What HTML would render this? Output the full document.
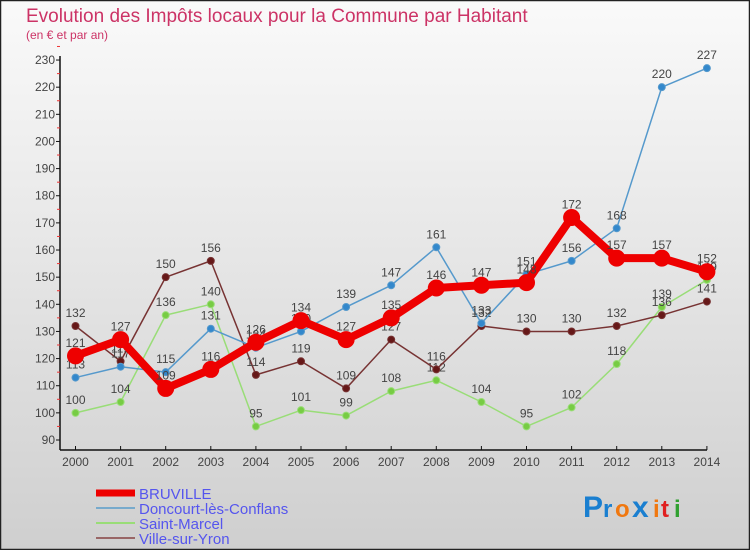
<!DOCTYPE html>
<html><head><meta charset="utf-8"><style>
html,body{margin:0;padding:0;}
body{width:750px;height:550px;overflow:hidden;font-family:"Liberation Sans",sans-serif;}
</style></head><body>
<svg id="chart" width="750" height="550" xmlns="http://www.w3.org/2000/svg" font-family="Liberation Sans, sans-serif">
<defs><linearGradient id="bg" x1="0" y1="0" x2="0" y2="1"><stop offset="0" stop-color="#fafafa"/><stop offset="1" stop-color="#cfcfcf"/></linearGradient></defs>
<rect x="0.5" y="0.5" width="749" height="549" fill="url(#bg)" stroke="#222" stroke-width="1.5"/>
<text x="26" y="22" font-size="19" fill="#cc3366">Evolution des Impôts locaux pour la Commune par Habitant</text>
<text x="26" y="39" font-size="12" fill="#cc3366">(en € et par an)</text>
<g id="axes"></g>
<g id="series"></g>
<g id="legend"></g>
<g font-size="30" font-weight="bold">
<text x="583" y="517" fill="#1a7fd0">P</text><text x="603" y="517" fill="#1a7fd0" font-size="24">r</text><text x="615" y="517" fill="#f07810" font-size="24">o</text><text x="632" y="517" fill="#1a7fd0">x</text><text x="653" y="517" fill="#f07810" font-size="24">i</text><text x="661" y="517" fill="#e02020" font-size="24">t</text><text x="674" y="517" fill="#30a030" font-size="24">i</text>
</g>
</svg>
<script>
const years=[2000,2001,2002,2003,2004,2005,2006,2007,2008,2009,2010,2011,2012,2013,2014];
const bruville=[121,127,109,116,126,134,127,135,146,147,148,172,157,157,152];
const doncourt=[113,117,115,131,124,130,139,147,161,133,151,156,168,220,227];
const saintMarcel=[100,104,136,140,95,101,99,108,112,104,95,102,118,139,149];
const villeSurYron=[132,119,150,156,114,119,109,127,116,132,130,130,132,136,141];
const yTicks=[90,100,110,120,130,140,150,160,170,180,190,200,210,220,230];
const NS='http://www.w3.org/2000/svg';
const x=i=>75.5+i*45.1;
const y=v=>440-(v-90)*2.714;
function mk(tag,attrs,parent){const e=document.createElementNS(NS,tag);for(const k in attrs)e.setAttribute(k,attrs[k]);parent.appendChild(e);return e;}
const axes=document.getElementById('axes');
const ya=mk('line',{x1:60,y1:56,x2:60,y2:450,stroke:'#111','stroke-width':1.5},axes);


const xa=mk('line',{x1:60,y1:450,x2:707,y2:450,stroke:'#111','stroke-width':1.5},axes);


yTicks.forEach(v=>{
 mk('line',{x1:56,x2:60,y1:y(v),y2:y(v),stroke:'#111'},axes);
 mk('line',{x1:57,x2:60,y1:y(v+5),y2:y(v+5),stroke:'#e33'},axes);
 const t=mk('text',{x:55,y:y(v)+4,'text-anchor':'end','font-size':12,fill:'#444'},axes);
 t.textContent=v;
 
 
});
years.forEach((yr,i)=>{
 mk('line',{x1:x(i),x2:x(i),y1:446,y2:450,stroke:'#111'},axes);
 const t=mk('text',{x:x(i),y:466,'text-anchor':'middle','font-size':12,fill:'#444'},axes);
 t.textContent=yr;
 
 
});
const S=document.getElementById('series');
function series(data,name,color,w,r,dot){
 const g=mk('g',{},S);
 
 
 const p=mk('polyline',{points:data.map((v,i)=>x(i)+','+y(v)).join(' '),fill:'none',stroke:color,'stroke-width':w,'stroke-linejoin':'round'},g);
 
 
 data.forEach((v,i)=>{
  const c=mk('circle',{cx:x(i),cy:y(v),r:r,fill:dot,stroke:color,'stroke-width':1},g);
  
  
  const t=mk('text',{x:x(i),y:y(v)-9,'text-anchor':'middle','font-size':12,fill:'#444'},g);
  t.textContent=v;
  
  
 });
}
series(saintMarcel,'saint-marcel','#99dd77',1.5,3.5,'#77cc44');
series(villeSurYron,'ville-sur-yron','#773333',1.5,3.5,'#661818');
series(doncourt,'doncourt','#5599cc',1.5,3.5,'#3388cc');
series(bruville,'bruville','#ee0000',8,8,'#ee0000');
const L=document.getElementById('legend');
const items=[['BRUVILLE','#ee0000',7],['Doncourt-lès-Conflans','#77aacc',2],['Saint-Marcel','#99dd77',2],['Ville-sur-Yron','#996666',2]];
items.forEach((it,i)=>{
 const yy=493+i*15;
 const ln=mk('line',{x1:96,x2:135,y1:yy,y2:yy,stroke:it[1],'stroke-width':it[2]},L);
 
 
 const t=mk('text',{x:139,y:yy+6,'font-size':15,fill:'#5555ee'},L);
 t.textContent=it[0];
 
 
});
</script>
</body></html>
